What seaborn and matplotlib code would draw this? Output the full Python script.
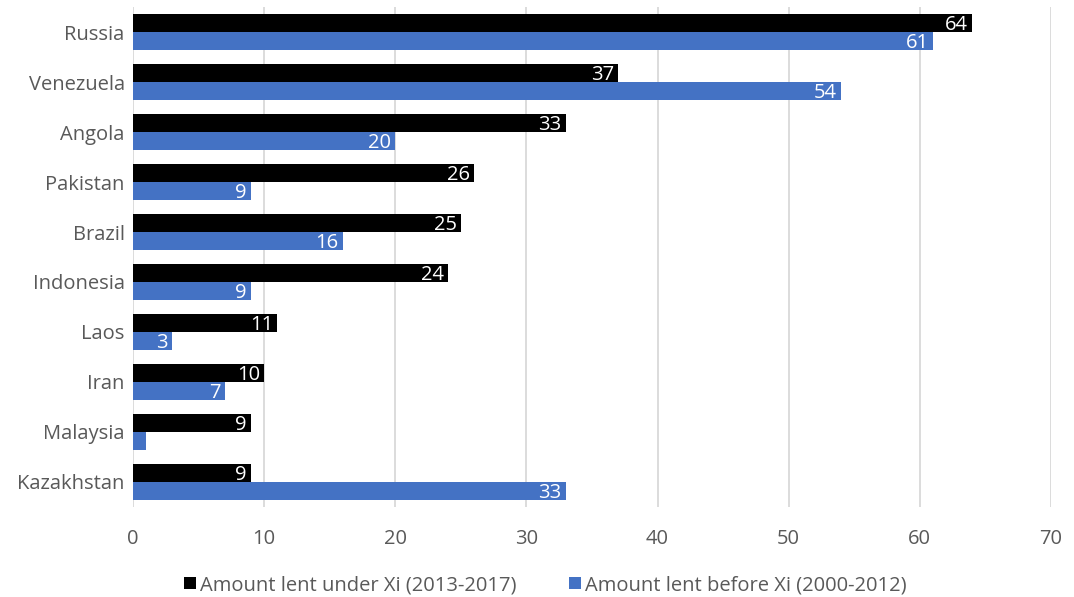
import matplotlib
matplotlib.use("Agg")
import matplotlib.pyplot as plt
import seaborn as sns
import pandas as pd

countries = ["Russia", "Venezuela", "Angola", "Pakistan", "Brazil", "Indonesia",
             "Laos", "Iran", "Malaysia", "Kazakhstan"]
under_xi = [64, 37, 33, 26, 25, 24, 11, 10, 9, 9]
before_xi = [61, 54, 20, 9, 16, 9, 3, 7, 1, 33]
series_names = ["Amount lent under Xi (2013-2017)", "Amount lent before Xi (2000-2012)"]
x_ticks = [0, 10, 20, 30, 40, 50, 60, 70]

df = pd.DataFrame({
    "country": countries * 2,
    "value": under_xi + before_xi,
    "series": [series_names[0]] * len(countries) + [series_names[1]] * len(countries),
})

sns.set_style("white")
plt.rcParams["font.family"] = ["Open Sans", "DejaVu Sans"]

fig = plt.figure(figsize=(10.74, 5.97), dpi=100)
ax = fig.add_axes([0.1238, 0.151, 0.8548, 0.837])

palette = {series_names[0]: "#000000", series_names[1]: "#4472C4"}
sns.barplot(data=df, y="country", x="value", hue="series", hue_order=series_names,
            order=countries, palette=palette, orient="h", width=0.72,
            saturation=1, linewidth=0, ax=ax, zorder=3)

ax.set_xlim(0, 70)
ax.set_xticks(x_ticks)
ax.xaxis.grid(True, color="#D9D9D9", linewidth=1.3, zorder=0)
ax.set_axisbelow(True)
for s in ax.spines.values():
    s.set_visible(False)
ax.set_xlabel("")
ax.set_ylabel("")
ax.tick_params(axis="both", length=0, labelsize=14.5, colors="#595959")
ax.tick_params(axis="x", pad=16)
ax.tick_params(axis="y", pad=6)

for cont in ax.containers:
    for bar in cont:
        w = bar.get_width()
        if w < 2:
            continue
        ax.annotate(f"{w:g}", (w, bar.get_y() + bar.get_height() / 2),
                    xytext=(-3, -1.5), textcoords="offset points",
                    ha="right", va="center", color="white", fontsize=14.5, zorder=5)

handles, labels = ax.get_legend_handles_labels()
ax.get_legend().remove()
fig.legend(handles, labels, loc="center", bbox_to_anchor=(0.508, 0.02), ncol=2,
           frameon=False, fontsize=14.5, handlelength=0.6, handleheight=0.6,
           handletextpad=0.2, columnspacing=2.6, labelcolor="#595959",
           borderaxespad=0, borderpad=0)

fig.savefig("out.png", dpi=100)
